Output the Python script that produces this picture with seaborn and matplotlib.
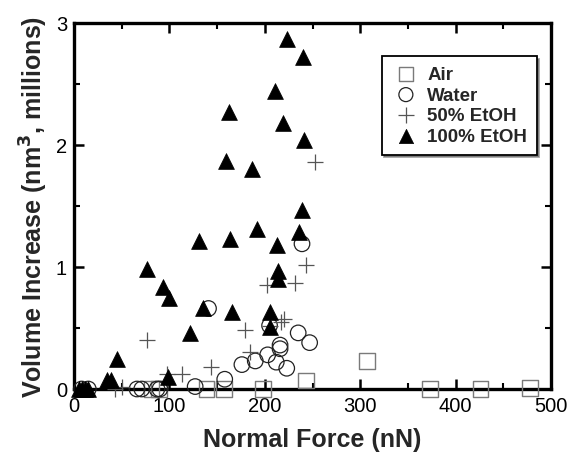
import matplotlib
matplotlib.use("Agg")
import matplotlib.pyplot as plt
import seaborn as sns
import numpy as np
from matplotlib.ticker import MultipleLocator

sns.set_theme(style="white")
plt.rcParams['font.family'] = ['Liberation Sans', 'DejaVu Sans']

# Data (Normal force nN, volume increase in millions nm^3)
air_x = [81, 89, 139, 157, 198, 243, 307, 373, 426, 478]
air_y = [0.0, 0.0, 0.0, 0.0, 0.0, 0.07, 0.23, 0.0, 0.0, 0.01]

water_x = [8, 15, 66, 71, 87, 90, 127, 141, 158, 176, 190, 203, 205, 212, 216, 216, 223, 235, 239, 247]
water_y = [0.0, 0.0, 0.0, 0.0, 0.0, 0.0, 0.02, 0.66, 0.08, 0.20, 0.23, 0.28, 0.52, 0.22, 0.33, 0.36, 0.17, 0.46, 1.19, 0.38]

etoh50_x = [43, 50, 76, 97, 113, 144, 179, 184, 202, 205, 217, 220, 232, 243, 253]
etoh50_y = [0.0, 0.02, 0.40, 0.12, 0.12, 0.18, 0.48, 0.30, 0.85, 0.52, 0.55, 0.57, 0.87, 1.02, 1.86]

etoh100_x = [5, 8, 12, 15, 35, 39, 45, 77, 93, 100, 99, 122, 131, 135, 159, 162, 163, 166, 187, 192,
             205, 205, 211, 213, 214, 214, 219, 223, 236, 239, 240, 241]
etoh100_y = [0.0, 0.0, 0.0, 0.0, 0.07, 0.07, 0.25, 0.98, 0.84, 0.75, 0.10, 0.46, 1.21, 0.66, 1.87, 2.27, 1.23, 0.63, 1.80, 1.31,
             0.63, 0.51, 2.44, 1.18, 0.97, 0.90, 2.18, 2.87, 1.29, 1.47, 2.72, 2.04]

labels = ["Air", "Water", "50% EtOH", "100% EtOH"]

fig = plt.figure(figsize=(5.69, 4.56), dpi=100)
ax = fig.add_axes([74/569, 66/456, 477/569, 366/456])

handles = []
# Air: open gray squares
sns.scatterplot(x=air_x, y=air_y, ax=ax, marker='s', s=125, color='none', clip_on=False, zorder=3)
c = ax.collections[-1]
c.set_facecolor('none'); c.set_edgecolor('#7a7a7a'); c.set_linewidth(1.0)
handles.append(c)
# Water: open black circles
sns.scatterplot(x=water_x, y=water_y, ax=ax, marker='o', s=125, color='none', clip_on=False, zorder=3)
c = ax.collections[-1]
c.set_facecolor('none'); c.set_edgecolor('#222222'); c.set_linewidth(0.9)
handles.append(c)
# 50% EtOH: plus
sns.scatterplot(x=etoh50_x, y=etoh50_y, ax=ax, marker='+', s=145, color='#555555', linewidth=0.9, clip_on=False, zorder=3)
c = ax.collections[-1]
handles.append(c)
# 100% EtOH: filled black triangles
sns.scatterplot(x=etoh100_x, y=etoh100_y, ax=ax, marker='^', s=130, color='black', edgecolor='black', linewidth=0.5, clip_on=False, zorder=4)
c = ax.collections[-1]
handles.append(c)

ax.set_xlim(0, 500)
ax.set_ylim(0, 3)
ax.xaxis.set_major_locator(MultipleLocator(100))
ax.xaxis.set_minor_locator(MultipleLocator(50))
ax.yaxis.set_major_locator(MultipleLocator(1))
ax.yaxis.set_minor_locator(MultipleLocator(0.5))
ax.tick_params(which='both', direction='in', top=True, right=True, bottom=True, left=True, colors='black')
ax.tick_params(which='major', length=7, width=1.8, labelsize=14.5, pad=5)
ax.tick_params(which='minor', length=4, width=1.5)
for sp in ax.spines.values():
    sp.set_linewidth(2.4)
    sp.set_color('black')

ax.set_xlabel("Normal Force (nN)", fontsize=18, fontweight='bold', labelpad=9)
ax.set_ylabel("Volume Increase (nm$^{\\mathbf{3}}$, millions)", fontsize=18, fontweight='bold', labelpad=4)

leg = ax.legend(handles, labels, loc='upper left', bbox_to_anchor=(0.625, 0.935),
                frameon=True, fancybox=False, shadow=True, framealpha=1,
                edgecolor='black', prop={'weight': 'bold', 'size': 13.5},
                handletextpad=0.35, borderpad=0.5, labelspacing=0.2, handlelength=1.6,
                scatterpoints=1, markerscale=0.9)
leg.get_frame().set_linewidth(1.3)

fig.savefig("out.png", dpi=100)
